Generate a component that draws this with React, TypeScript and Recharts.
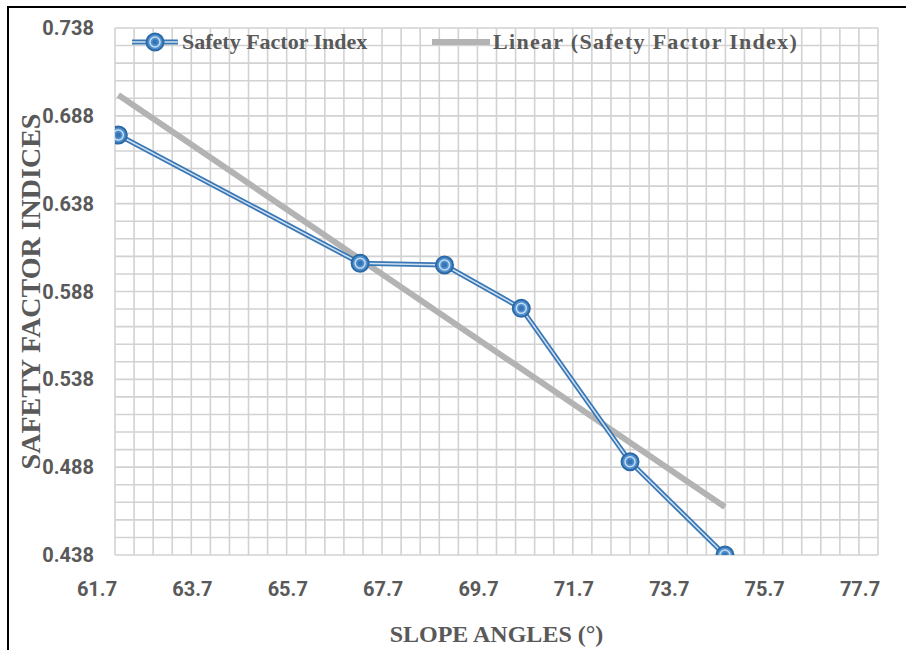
import React from "react";
import { ComposedChart, Line, XAxis, YAxis, CartesianGrid, Label } from "recharts";

const slopeAngles = [61.77, 66.84, 68.61, 70.22, 72.5, 74.49];
const safetyFactors = [0.6771, 0.6041, 0.6031, 0.5784, 0.4911, 0.438];

// Linear trend line endpoints
const trendAngles = [61.77, 74.49];
const trendValues = [0.6999, 0.4653];

// Major tick labels
const xMajorTicks = [61.7, 63.7, 65.7, 67.7, 69.7, 71.7, 73.7, 75.7, 77.7];
const yMajorTicks = [0.438, 0.488, 0.538, 0.588, 0.638, 0.688, 0.738];

// Minor grid positions
const xGridTicks = Array.from({ length: 41 }, (_, i) => +(61.7 + i * 0.4).toFixed(1));
const yGridTicks = Array.from({ length: 31 }, (_, i) => +(0.438 + i * 0.01).toFixed(3));

const seriesData = slopeAngles.map((x, i) => ({ x, y: safetyFactors[i] }));
const trendData = trendAngles.map((x, i) => ({ x, t: trendValues[i] }));

const isMajor = (v: number, arr: number[]) => arr.some((m) => Math.abs(m - v) < 1e-6);

const TICK_FONT = "'Liberation Sans Narrow', 'Roboto', 'Liberation Sans', sans-serif";
const SERIF = "'Liberation Serif', 'DejaVu Serif', serif";
const GREY = "#595959";

const Marker = (props: any) => {
  const { cx, cy } = props;
  if (cx == null || cy == null) return null;
  return (
    <g>
      <circle cx={cx} cy={cy} r={8.5} fill="#4f8fcf" stroke="#2c6aa6" strokeWidth={2} />
      <circle cx={cx} cy={cy} r={5} fill="none" stroke="#c5dcf1" strokeWidth={1.5} />
      <circle cx={cx} cy={cy} r={2.5} fill="#3674b3" />
    </g>
  );
};

const LegendBlock = () => (
  <div
    style={{
      position: "absolute",
      left: 0,
      top: 28,
      width: 906,
      height: 28,
      fontFamily: SERIF,
      fontWeight: "bold",
      fontSize: 22,
      color: GREY,
      lineHeight: "28px",
    }}
  >
    <svg width={50} height={28} style={{ position: "absolute", left: 130, top: 0 }}>
      <line x1={2} y1={14} x2={48} y2={14} stroke="#3a78b5" strokeWidth={5} />
      <line x1={2} y1={14} x2={48} y2={14} stroke="#cfe0f1" strokeWidth={1.5} />
      <Marker cx={25} cy={14} />
    </svg>
    <span style={{ position: "absolute", left: 182, top: 0, whiteSpace: "nowrap" }}>Safety Factor Index</span>
    <svg width={60} height={28} style={{ position: "absolute", left: 431, top: 0 }}>
      <line x1={1} y1={14} x2={59} y2={14} stroke="#b3b3b3" strokeWidth={6} />
    </svg>
    <span style={{ position: "absolute", left: 493, top: 0, whiteSpace: "nowrap", letterSpacing: 1.3 }}>
      Linear (Safety Factor Index)
    </span>
  </div>
);

export default function App() {
  return (
    <div style={{ position: "absolute", left: 0, top: 0, width: 906, height: 650, background: "#fff" }}>
      <div
        style={{
          position: "absolute",
          left: 7,
          top: 6,
          width: 905,
          height: 650,
          borderTop: "2px solid #000",
          borderLeft: "2px solid #000",
        }}
      />
      <div style={{ position: "absolute", left: 0, top: 0 }}>
        <ComposedChart
          width={906}
          height={650}
          margin={{ top: 28, right: 28, bottom: 0, left: 0 }}
        >
          <CartesianGrid stroke="#d2d2d2" strokeWidth={1.6} />
          <XAxis
            type="number"
            dataKey="x"
            domain={[61.7, 77.7]}
            ticks={xGridTicks}
            interval={0}
            allowDataOverflow
            height={95}
            axisLine={false}
            tickLine={false}
            tickMargin={21}
            tick={{ fill: GREY, fontSize: 20, fontWeight: "bold", fontFamily: TICK_FONT, dx: -18 } as any}
            tickFormatter={(v: number) => (isMajor(v, xMajorTicks) ? v.toFixed(1) : "")}
          >
            <Label
              value="SLOPE ANGLES (°)"
              position="insideBottom"
              offset={8}
              style={{ fill: GREY, fontSize: 24, fontWeight: "bold", fontFamily: SERIF }}
            />
          </XAxis>
          <YAxis
            type="number"
            domain={[0.438, 0.738]}
            ticks={yGridTicks}
            interval={0}
            allowDataOverflow
            width={115}
            axisLine={false}
            tickLine={false}
            tickMargin={15}
            tick={{ fill: GREY, fontSize: 20, fontWeight: "bold", fontFamily: TICK_FONT }}
            tickFormatter={(v: number) => (isMajor(v, yMajorTicks) ? v.toFixed(3) : "")}
          >
            <Label
              value="SAFETY FACTOR INDICES"
              angle={-90}
              position="insideLeft"
              offset={30}
              style={{ fill: GREY, fontSize: 28, fontWeight: "bold", fontFamily: SERIF, textAnchor: "middle" }}
            />
          </YAxis>
          <Line
            data={trendData}
            dataKey="t"
            type="linear"
            stroke="#b3b3b3"
            strokeWidth={6}
            dot={false}
            activeDot={false}
            isAnimationActive={false}
          />
          <Line
            data={seriesData}
            dataKey="y"
            type="linear"
            stroke="#3a78b5"
            strokeWidth={5}
            dot={false}
            activeDot={false}
            isAnimationActive={false}
          />
          <Line
            data={seriesData}
            dataKey="y"
            type="linear"
            stroke="#cfe0f1"
            strokeWidth={1.5}
            dot={<Marker />}
            activeDot={false}
            isAnimationActive={false}
          />
        </ComposedChart>
      </div>
      <LegendBlock />
    </div>
  );
}
